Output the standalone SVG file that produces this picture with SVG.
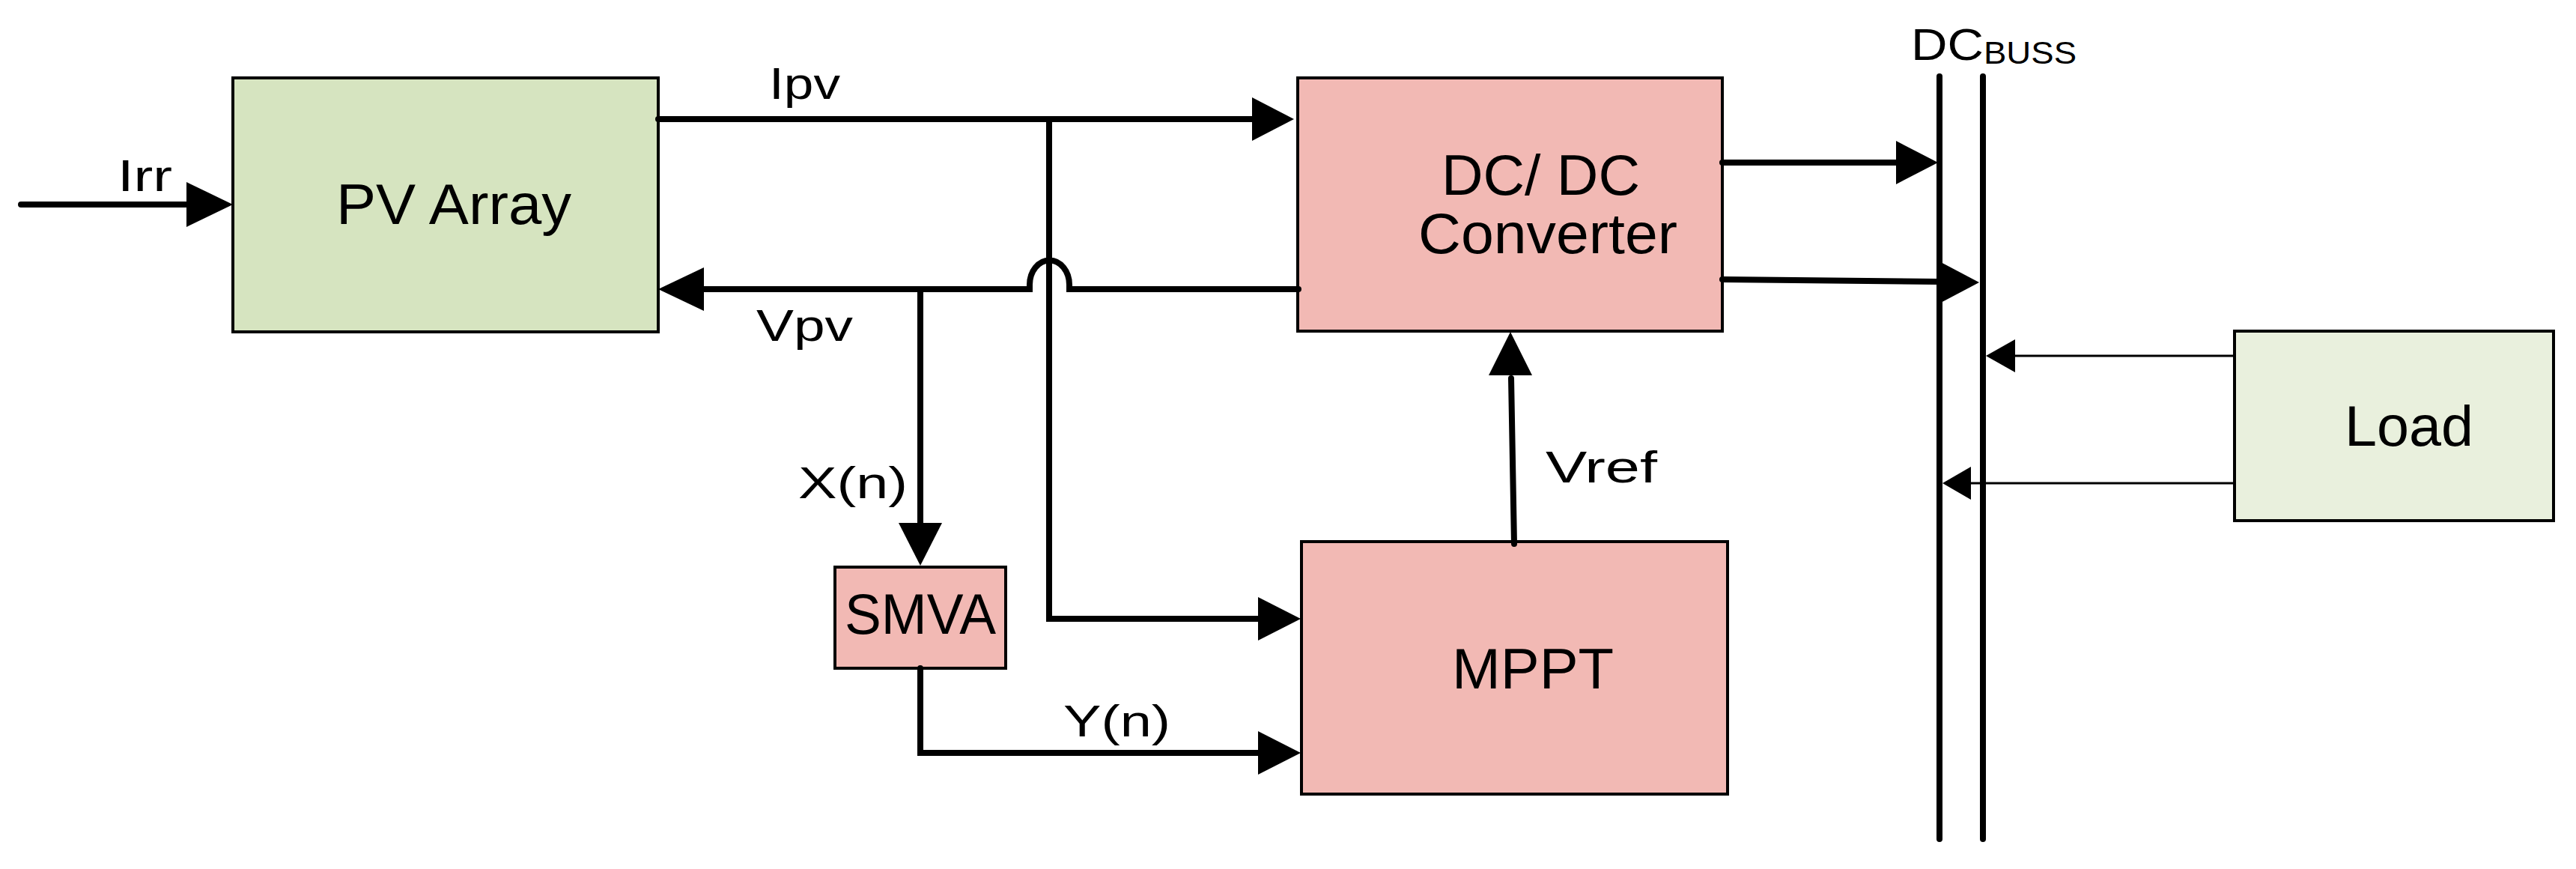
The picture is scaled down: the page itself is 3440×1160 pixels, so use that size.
<svg xmlns="http://www.w3.org/2000/svg" width="3440" height="1160" viewBox="0 0 3440 1160">
<style>
text{font-family:"Liberation Sans",Arial,sans-serif;fill:#000}
.lb{font-size:60px}
.bx{font-size:76px}
.w{stroke:#000;stroke-width:8;fill:none;stroke-linecap:round}
.t{stroke:#000;stroke-width:3;fill:none}
.box{stroke:#000;stroke-width:4}
</style>
<rect width="3440" height="1160" fill="#fff"/>
<g id="pv"><rect class="box" x="311" y="104" width="568" height="339" fill="#d6e4c0"/><text class="bx" x="449" y="299" textLength="314" lengthAdjust="spacingAndGlyphs">PV Array</text></g>
<g id="dcdc"><rect class="box" x="1733" y="104" width="567" height="338" fill="#f2b9b4"/><text class="bx" x="1925" y="260" textLength="265" lengthAdjust="spacingAndGlyphs">DC/ DC</text><text class="bx" x="1894" y="338" textLength="346" lengthAdjust="spacingAndGlyphs">Converter</text></g>
<g id="mppt"><rect class="box" x="1738" y="723" width="569" height="337" fill="#f2b9b4"/><text class="bx" x="1939" y="919" textLength="216" lengthAdjust="spacingAndGlyphs">MPPT</text></g>
<g id="smva"><rect class="box" x="1115" y="757" width="228" height="135" fill="#f2b9b4"/><text class="bx" x="1128" y="846" textLength="202" lengthAdjust="spacingAndGlyphs">SMVA</text></g>
<g id="load"><rect class="box" x="2984" y="442" width="426" height="253" fill="#e9f0dd"/><text class="bx" x="3131" y="595" textLength="172" lengthAdjust="spacingAndGlyphs">Load</text></g>
<g id="bus"><line class="w" x1="2590" y1="102" x2="2590" y2="1120"/><line class="w" x1="2648" y1="102" x2="2648" y2="1120"/><text class="lb" x="2552" y="80" textLength="97" lengthAdjust="spacingAndGlyphs">DC</text><text x="2649" y="85" font-size="42" textLength="124" lengthAdjust="spacingAndGlyphs">BUSS</text></g>
<g id="connectors">
<line class="w" x1="28" y1="273" x2="255" y2="273"/><polygon points="249,243 311,273 249,303"/>
<text class="lb" x="157" y="255" textLength="73" lengthAdjust="spacingAndGlyphs">Irr</text>
<line class="w" x1="879" y1="159" x2="1675" y2="159"/><polygon points="1672,130 1728,159 1672,188"/>
<text class="lb" x="1027" y="132" textLength="95" lengthAdjust="spacingAndGlyphs">Ipv</text>
<polyline class="w" points="1401,159 1401,826 1685,826"/><polygon points="1680,797 1737,826 1680,855"/>
<path class="w" d="M1734,386 L1428,386 L1428,380 A13,16 0 0 0 1375,380 L1375,386 L935,386"/><polygon points="940,357 879,386 940,415"/>
<text class="lb" x="1010" y="455" textLength="129" lengthAdjust="spacingAndGlyphs">Vpv</text>
<line class="w" x1="1229" y1="386" x2="1229" y2="702"/><polygon points="1200,698 1229,755 1258,698"/>
<text class="lb" x="1066" y="665" textLength="146" lengthAdjust="spacingAndGlyphs">X(n)</text>
<polyline class="w" points="1229,892 1229,1005 1685,1005"/><polygon points="1680,976 1737,1005 1680,1034"/>
<text class="lb" x="1420" y="983" textLength="143" lengthAdjust="spacingAndGlyphs">Y(n)</text>
<line class="w" x1="2022" y1="726" x2="2018" y2="505"/><polygon points="1988,501 2017,443 2046,501"/>
<text class="lb" x="2064" y="644" textLength="149" lengthAdjust="spacingAndGlyphs">Vref</text>
<line class="w" x1="2300" y1="217" x2="2535" y2="217"/><polygon points="2532,188 2588,217 2532,246"/>
<line class="w" x1="2300" y1="373" x2="2590" y2="376"/><polygon points="2588,348 2643,377 2588,406"/>
<line class="t" x1="2984" y1="475" x2="2690" y2="475"/><polygon points="2691,453 2652,475 2691,497"/>
<line class="t" x1="2984" y1="645" x2="2630" y2="645"/><polygon points="2632,623 2594,645 2632,667"/>
</g>
</svg>
